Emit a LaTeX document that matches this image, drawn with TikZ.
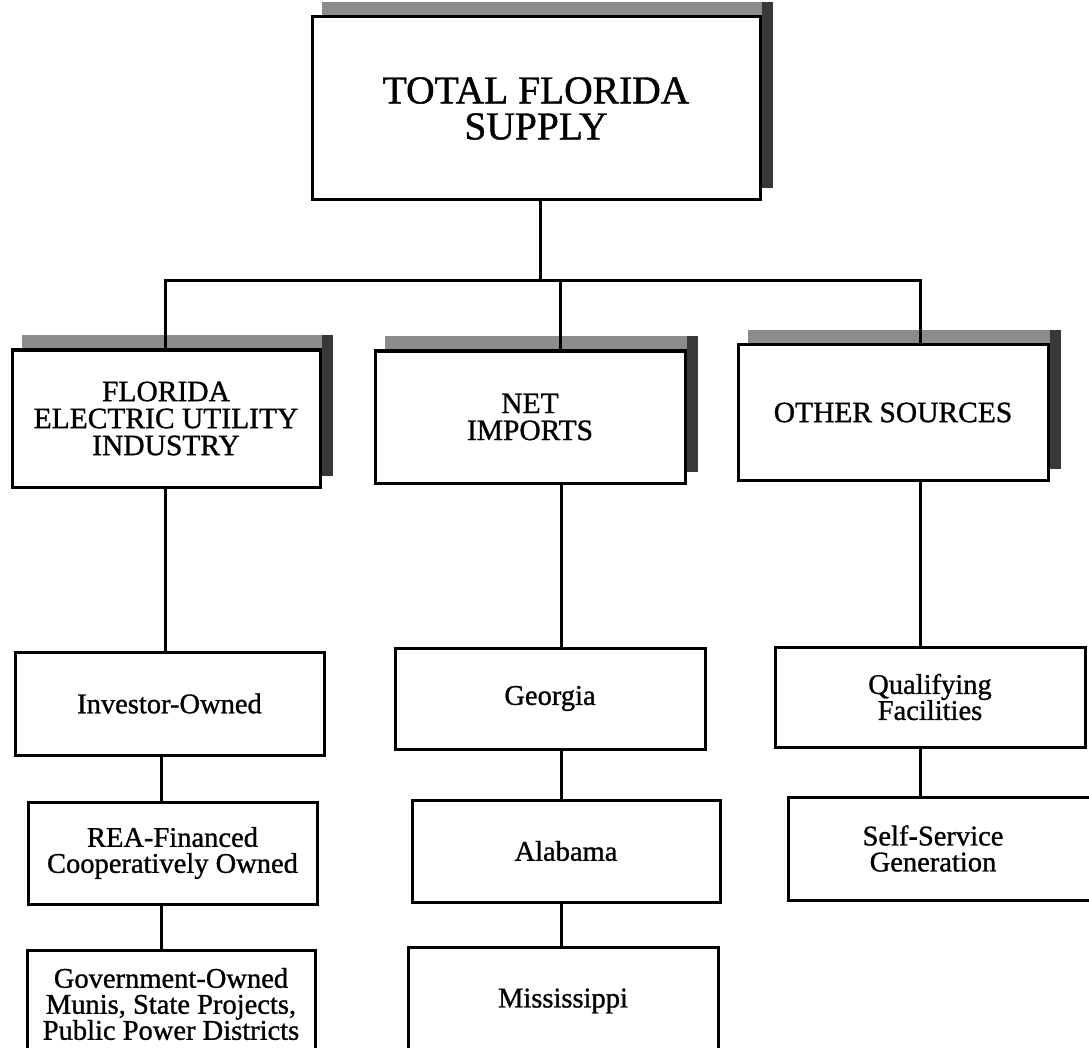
\documentclass[tikz,border=0pt]{standalone}
\usepackage{fontspec}
\setmainfont{Liberation Serif}[BoldFont={Liberation Serif}, BoldFeatures={FakeBold=1.0}]
\pgfdeclarelayer{bg}
\pgfsetlayers{bg,main}
\newcommand\shadebox[1]{%
  \begin{pgfonlayer}{bg}
    \fill[shadetop] ([shift={(11pt,13pt)}]#1.south west) rectangle ([shift={(11pt,13pt)}]#1.north east);
    \fill[shaderight] ([yshift=13pt]#1.north east) rectangle ([shift={(11pt,13pt)}]#1.south east);
  \end{pgfonlayer}}
\begin{document}
\begin{tikzpicture}[x=1pt,y=1pt,
  box/.style={draw=black, line width=3pt, fill=white, rectangle, inner sep=0pt, align=center},
  titlebox/.style={box, font=\fontsize{39.5}{36}\selectfont\bfseries},
  headbox/.style={box, font=\fontsize{29.5}{27}\selectfont\bfseries},
  subbox/.style={box, font=\fontsize{28.5}{26}\selectfont\bfseries},
  link/.style={line width=3pt},
  shadetop/.style={fill=black!45},
  shaderight/.style={fill=black!78}]
\useasboundingbox (0,0) rectangle (1089,-1048);
\begin{scope}
\clip (0,0) rectangle (1089,-1048);

% top
\node[titlebox, minimum width=448pt, minimum height=183pt] (top) at (536,-108.5) {TOTAL FLORIDA\\SUPPLY};
\shadebox{top}

% middle row
\node[headbox, minimum width=308pt, minimum height=137pt] (fl) at (166,-418.5) {FLORIDA\\ELECTRIC UTILITY\\INDUSTRY};
\node[headbox, minimum width=310pt, minimum height=132pt] (net) at (530,-417) {NET\\IMPORTS};
\node[headbox, minimum width=310pt, minimum height=135pt] (other) at (893,-412.5) {OTHER SOURCES};
\shadebox{fl}
\shadebox{net}
\shadebox{other}

% left column
\node[subbox, minimum width=309pt, minimum height=103pt] (inv) at (169.5,-703.5) {Investor-Owned};
\node[subbox, minimum width=289pt, minimum height=102pt] (rea) at (172.5,-853) {REA-Financed\\Cooperatively Owned};
\node[subbox, minimum width=288pt, minimum height=108pt] (gov) at (171,-1004) {Government-Owned\\Munis, State Projects,\\Public Power Districts};

% centre column
\node[subbox, minimum width=310pt, minimum height=101pt] (geo) at (550,-698.5) {Georgia};
\node[subbox, minimum width=308pt, minimum height=102pt] (ala) at (566,-851) {Alabama};
\node[subbox, minimum width=310pt, minimum height=108pt] (mis) at (563,-1001) {Mississippi};

% right column
\node[subbox, minimum width=310pt, minimum height=100pt] (qf) at (930,-697) {Qualifying\\Facilities};
\node[subbox, minimum width=312pt, minimum height=103pt, text width=290pt, align=center] (ssg) at (944,-848.5) {\hspace*{-22pt}Self-Service\\\hspace*{-22pt}Generation};

% connectors
\coordinate (bL) at (165,-281);
\coordinate (bM) at (560,-281);
\coordinate (bR) at (920,-281);
\coordinate (cT) at (540,0);
\coordinate (cL) at (161,0);
\coordinate (cM) at (561,0);

\draw[link] (top.south -| cT) -- (bM -| cT);
\draw[link] (fl.north -| bL) -- (bL) -- (bR) -- (other.north -| bR);
\draw[link] (bM) -- (net.north -| bM);

\draw[link] (fl.south -| bL) -- (inv.north -| bL);
\draw[link] (inv.south -| cL) -- (rea.north -| cL);
\draw[link] (rea.south -| cL) -- (gov.north -| cL);

\draw[link] (net.south -| cM) -- (geo.north -| cM);
\draw[link] (geo.south -| cM) -- (ala.north -| cM);
\draw[link] (ala.south -| cM) -- (mis.north -| cM);

\draw[link] (other.south -| bR) -- (qf.north -| bR);
\draw[link] (qf.south -| bR) -- (ssg.north -| bR);
\end{scope}
\end{tikzpicture}
\end{document}
